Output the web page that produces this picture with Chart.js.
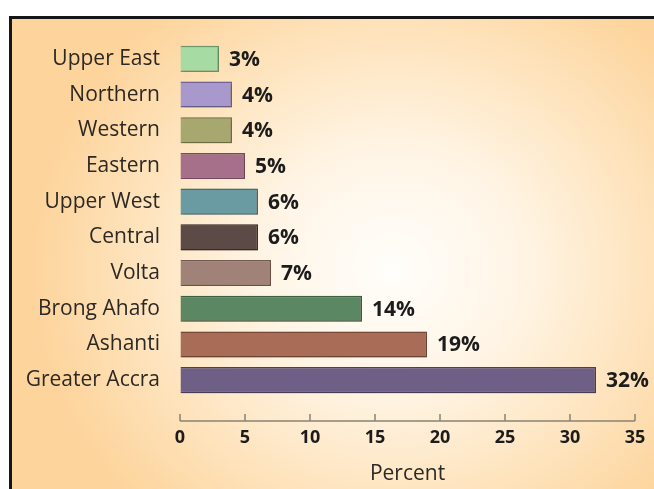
<!DOCTYPE html>
<html>
<head>
<meta charset="utf-8">
<script src="https://cdn.jsdelivr.net/npm/chart.js@4.4.1/dist/chart.umd.min.js"></script>
<style>
  html, body { margin: 0; padding: 0; background: #fff; }
  body { width: 654px; height: 489px; position: relative; overflow: hidden; }
  #frame {
    position: absolute; left: 9px; top: 16px; right: 0; bottom: 0;
    border-top: 3px solid #161616; border-left: 3px solid #161616;
    background: radial-gradient(ellipse 360px 330px at 380px 250px,
      #fffefb 0%, #fff5e6 35%, #fee4be 70%, #fdd49c 100%);
  }
  #chart { position: absolute; left: 0; top: 0; }
</style>
</head>
<body>
<div id="frame"></div>
<canvas id="chart" width="654" height="489"></canvas>
<script>
// Data
const regions = ['Upper East', 'Northern', 'Western', 'Eastern', 'Upper West',
                 'Central', 'Volta', 'Brong Ahafo', 'Ashanti', 'Greater Accra'];
const percents = [3, 4, 4, 5, 6, 6, 7, 14, 19, 32];
const barColors = ['#a6dba3', '#a898cc', '#a6a870', '#a6708a', '#6a9aa2',
                   '#5b4a46', '#a08278', '#5b8762', '#a86c57', '#6e5f87'];
const borderColors = ['#6f9a6c', '#72679a', '#77784a', '#7a4c62', '#4a6f76',
                      '#3a2d2a', '#745a52', '#3e6244', '#7a4a3a', '#4b4063'];
const xMin = 0, xMax = 35, xStep = 5;

const family = "'Open Sans', 'Noto Sans', sans-serif";

// Drop shadow under bars plus the value labels at the bar ends
const barExtras = {
  id: 'barExtras',
  beforeDatasetsDraw(chart) {
    const ctx = chart.ctx;
    ctx.save();
    ctx.shadowColor = 'rgba(60,40,20,0.35)';
    ctx.shadowBlur = 3;
    ctx.shadowOffsetX = 1;
    ctx.shadowOffsetY = 1;
  },
  afterDatasetsDraw(chart) {
    const ctx = chart.ctx;
    ctx.restore();
    const meta = chart.getDatasetMeta(0);
    ctx.save();
    ctx.font = 'bold 21px ' + family;
    ctx.fillStyle = '#1c1c1c';
    ctx.textAlign = 'left';
    ctx.textBaseline = 'middle';
    meta.data.forEach((bar, i) => {
      ctx.fillText(percents[i] + '%', bar.x + 10, bar.y + 1);
    });
    ctx.restore();
  }
};

// Axis line with upward tick marks, sitting below the bars
const axisLine = {
  id: 'axisLine',
  afterDraw(chart) {
    const { ctx, chartArea, scales: { x } } = chart;
    const y = chartArea.bottom + 23;
    ctx.save();
    ctx.strokeStyle = '#8a8272';
    ctx.lineWidth = 1.5;
    ctx.beginPath();
    ctx.moveTo(x.left, y);
    ctx.lineTo(x.right, y);
    x.ticks.forEach(t => {
      const px = x.getPixelForValue(t.value);
      ctx.moveTo(px, y);
      ctx.lineTo(px, y - 7);
    });
    ctx.stroke();
    ctx.restore();
  }
};

new Chart(document.getElementById('chart'), {
  type: 'bar',
  data: {
    labels: regions,
    datasets: [{
      data: percents,
      backgroundColor: barColors,
      borderColor: borderColors,
      borderWidth: 1.5,
      barPercentage: 0.73,
      categoryPercentage: 1
    }]
  },
  options: {
    indexAxis: 'y',
    responsive: false,
    animation: false,
    layout: { padding: { top: 41, right: 19, left: 0, bottom: 0 } },
    plugins: {
      legend: { display: false },
      tooltip: { enabled: false }
    },
    scales: {
      y: {
        grid: { display: false, drawTicks: false },
        border: { display: false },
        ticks: {
          padding: 20,
          color: '#2c2824',
          font: { family: family, size: 21 }
        },
        afterFit(s) { s.width = 180; }
      },
      x: {
        min: xMin,
        max: xMax,
        // invisible tick marks only push the labels down below the axis line
        grid: { drawOnChartArea: false, drawTicks: true, tickLength: 29, color: 'rgba(0,0,0,0)' },
        border: { display: false },
        ticks: {
          stepSize: xStep,
          padding: 0,
          color: '#1c1c1c',
          font: { family: family, size: 18, weight: 'bold' }
        },
        title: {
          display: true,
          text: 'Percent',
          color: '#2c2824',
          font: { family: family, size: 21 },
          padding: { top: 0, bottom: 2 }
        },
        afterFit(s) { s.height = 91; }
      }
    }
  },
  plugins: [barExtras, axisLine]
});
</script>
</body>
</html>
